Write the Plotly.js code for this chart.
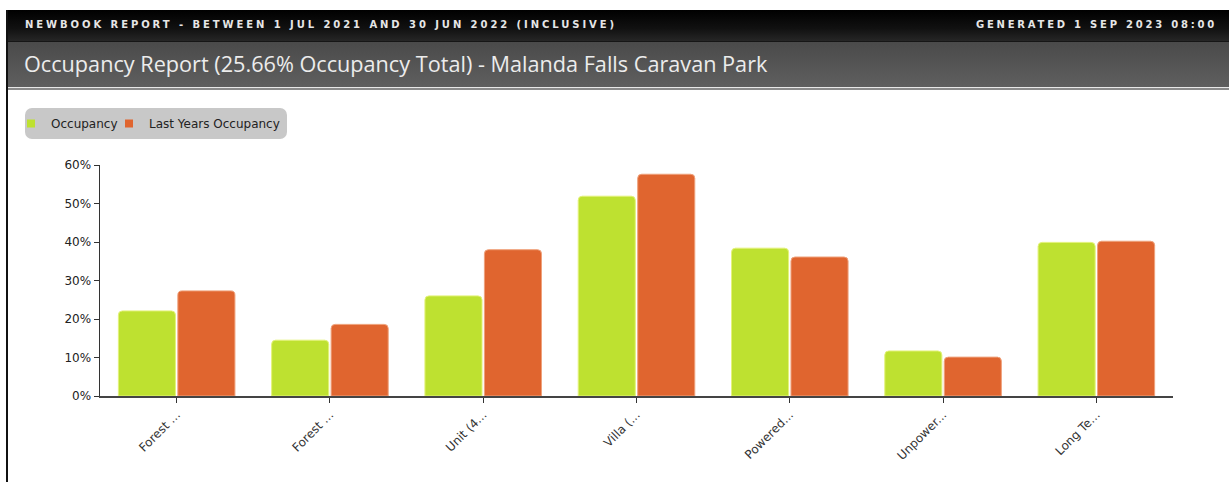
<!DOCTYPE html>
<html>
<head>
<meta charset="utf-8">
<script src="https://cdn.plot.ly/plotly-3.0.1.min.js"></script>
<style>
html,body{margin:0;padding:0;background:#fff;width:1229px;height:482px;overflow:hidden;}
#wrap{position:relative;width:1229px;height:482px;}
#chart{position:absolute;left:0;top:0;width:1229px;height:482px;z-index:2;}
#border{position:absolute;left:6px;top:10px;width:2px;height:472px;background:#111;z-index:3;}
#hdr{position:absolute;left:6px;top:10px;width:1223px;height:31px;background:linear-gradient(#000 0%,#111 60%,#262626 100%);z-index:1;}
#hdrline{position:absolute;left:6px;top:41px;width:1223px;height:1px;background:#161616;z-index:1;}
#bar2{position:absolute;left:6px;top:42px;width:1223px;height:45px;background:linear-gradient(#4a4a4a,#5f5f5f);z-index:1;}
#sep1{position:absolute;left:6px;top:87px;width:1223px;height:1px;background:#e8e8e8;z-index:1;}
#sep2{position:absolute;left:6px;top:88px;width:1223px;height:2px;background:#8a8a8a;z-index:1;}
.cap{position:absolute;top:20px;font-family:"DejaVu Sans",sans-serif;font-weight:bold;font-size:10px;line-height:10px;color:#e6e6e6;white-space:nowrap;z-index:4;}
#t1{left:25px;}
#t2{left:976px;}
#title{position:absolute;left:24px;top:51px;font-family:"Open Sans",sans-serif;font-size:20px;line-height:26px;color:#ececec;white-space:nowrap;z-index:4;}
#legbox{position:absolute;left:25px;top:108px;width:262px;height:31px;background:#c8c8c8;border-radius:7px;z-index:1;}
</style>
</head>
<body>
<div id="wrap">
  <div id="hdr"></div>
  <div id="hdrline"></div>
  <div id="bar2"></div>
  <div id="sep1"></div>
  <div id="sep2"></div>
  <div id="border"></div>
  <div id="legbox"></div>
  <div class="cap" id="t1">NEWBOOK REPORT - BETWEEN 1 JUL 2021 AND 30 JUN 2022 (INCLUSIVE)</div>
  <div class="cap" id="t2">GENERATED 1 SEP 2023 08:00</div>
  <div id="title">Occupancy Report (25.66% Occupancy Total) - Malanda Falls Caravan Park</div>
  <div id="chart"></div>
</div>
<script>
// ---- data ----
var categoryLabels = ["Forest ...", "Forest ...", "Unit (4...", "Villa (...", "Powered...", "Unpower...", "Long Te..."];
var occupancy = [22.1, 14.5, 26.0, 51.9, 38.4, 11.7, 39.9];
var lastYearsOccupancy = [27.3, 18.6, 38.0, 57.6, 36.1, 10.1, 40.2];
var seriesNames = ["Occupancy", "Last Years Occupancy"];
var yTickValues = [0, 10, 20, 30, 40, 50, 60];

// ---- header text fitting ----
function fitSpacing(id, target) {
  var el = document.getElementById(id);
  el.style.letterSpacing = "0px";
  var w0 = el.getBoundingClientRect().width;
  var n = el.textContent.length;
  el.style.letterSpacing = ((target - w0) / n) + "px";
}
fitSpacing("t1", 590 + 2);
fitSpacing("t2", 239 + 2);
(function () {
  var el = document.getElementById("title");
  var w = el.getBoundingClientRect().width;
  el.style.fontSize = (20 * 744 / w) + "px";
})();

var idx = categoryLabels.map(function (_, i) { return i; });
var GREEN = "#bee130", ORANGE = "#e0652f";

var traces = [
  {type: "bar", x: idx, y: occupancy, name: seriesNames[0], legendgroup: "a", showlegend: false,
   marker: {color: GREEN, cornerradius: 4, line: {color: "#e4f27a", width: 1}}},
  {type: "bar", x: idx, y: lastYearsOccupancy, name: seriesNames[1], legendgroup: "b", showlegend: false,
   marker: {color: ORANGE, cornerradius: 4, line: {color: "#efa27c", width: 1}}},
  {type: "scatter", mode: "markers", x: [null], y: [null], name: seriesNames[0], legendgroup: "a", legend: "legend",
   marker: {symbol: "square", size: 8, color: GREEN, line: {width: 0}}},
  {type: "scatter", mode: "markers", x: [null], y: [null], name: seriesNames[1], legendgroup: "b", legend: "legend2",
   marker: {symbol: "square", size: 8, color: ORANGE, line: {width: 0}}}
];

var W = 1229, H = 482, ML = 100, MR = 56, MT = 165, MB = 86;

function legendAt(pxX, pxY) {
  return {
    orientation: "h", xref: "container", yref: "container",
    x: pxX / W, y: 1 - pxY / H, xanchor: "left", yanchor: "top",
    bgcolor: "rgba(0,0,0,0)", borderwidth: 0,
    font: {family: "DejaVu Sans, sans-serif", size: 12, color: "#222"},
    itemclick: false, itemdoubleclick: false
  };
}

var layout = {
  width: W, height: H,
  margin: {l: ML, r: MR, t: MT, b: MB, pad: 0, autoexpand: false},
  paper_bgcolor: "rgba(0,0,0,0)",
  plot_bgcolor: "rgba(0,0,0,0)",
  font: {family: "DejaVu Sans, sans-serif", size: 12, color: "#222"},
  barmode: "group",
  bargap: 0.224,
  bargroupgap: 0.04,
  showlegend: true,
  legend: legendAt(11, 109),
  legend2: legendAt(109, 109),
  xaxis: {
    range: [-0.5, 6.5], tickmode: "array", tickvals: idx, ticktext: categoryLabels,
    tickangle: -45, showgrid: false, zeroline: false,
    showline: true, linecolor: "#444", linewidth: 2,
    ticks: "outside", ticklen: 5, tickcolor: "#333", tickwidth: 1,
    tickfont: {family: "DejaVu Sans, sans-serif", size: 12, color: "#333"},
    fixedrange: true
  },
  yaxis: {
    range: [0, 60], tickmode: "array", tickvals: yTickValues,
    ticktext: yTickValues.map(function (v) { return v + "%"; }),
    showgrid: false, zeroline: false,
    showline: true, linecolor: "#333", linewidth: 1.5,
    ticks: "outside", ticklen: 5, tickcolor: "#333", tickwidth: 1,
    tickfont: {family: "DejaVu Sans, sans-serif", size: 12, color: "#222"},
    fixedrange: true
  }
};

Plotly.newPlot("chart", traces, layout, {displayModeBar: false, staticPlot: true});
</script>
</body>
</html>
